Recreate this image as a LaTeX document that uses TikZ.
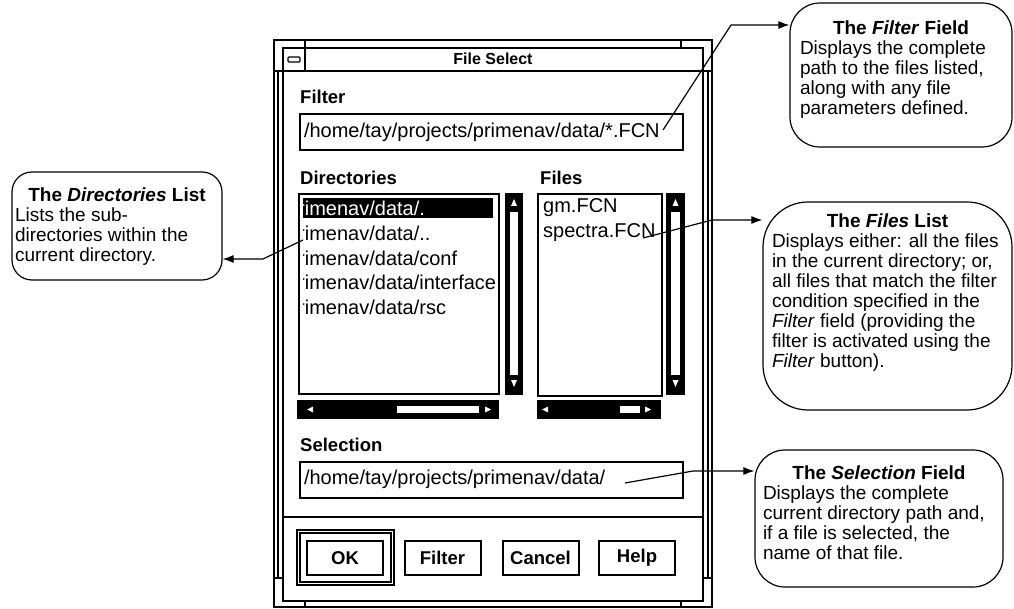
\documentclass[tikz,border=0pt]{standalone}
\usepackage{fontspec}
\setmainfont{Liberation Sans}
\usetikzlibrary{arrows.meta}

\newcommand\dlgfont{\fontsize{20}{22}\selectfont}
\newcommand\lblfont{\fontsize{18.5}{21}\selectfont\bfseries}
\newcommand\callfont{\fontsize{19}{20}\selectfont}

\tikzset{
  field/.style={draw, line width=2pt, minimum height=36pt, text width=375pt, inner sep=4pt, font=\dlgfont, align=left},
  listbox/.style={draw, line width=2pt, anchor=north west, inner sep=0pt},
  dlglabel/.style={anchor=west, inner sep=0pt, font=\lblfont},
  item/.style={anchor=west, inner sep=0pt, font=\dlgfont},
  button/.style={draw, line width=2pt, minimum width=76pt, minimum height=34pt, inner sep=0pt, font=\lblfont},
  callout/.style={draw, line width=1.2pt, inner sep=0pt},
  calltext/.style={anchor=north, inner sep=0pt, font=\callfont, align=left},
  pointer/.style={line width=1.2pt, -{Latex[length=11pt,width=8pt]}}
}

\begin{document}
\begin{tikzpicture}[x=1pt, y=-1pt]
\useasboundingbox (0,0) rectangle (1014,609);

% window frame
\draw[line width=1.2pt] (274,40) rectangle (712,607);
\draw[line width=2pt] (283,48) rectangle (703,601);
\draw[line width=2pt] (274,71) -- (712,71);
\draw[line width=1.2pt] (278,71) -- (278,578) -- (283,578);
\draw[line width=1.2pt] (708,71) -- (708,578) -- (703,578);
\draw[line width=1.2pt] (274,578) -- (278,578) (708,578) -- (712,578);
\draw[line width=1.2pt] (305,40) -- (305,71) (681,40) -- (681,48);
\draw[line width=1.2pt] (305,601) -- (305,607) (681,601) -- (681,607);
\draw[line width=1.2pt, rounded corners=1pt] (288,57) rectangle (300,62);
\node[font=\fontsize{16}{18}\selectfont\bfseries] (title) at (493,59) {File Select};

% filter
\node[dlglabel] (lblfilter) at (300,97) {Filter};
\node[field] (filterbox) at (491.5,132) {/home/tay/projects/primenav/data/*.FCN};

% lists
\node[dlglabel] (lbldirs) at (300,178) {Directories};
\node[dlglabel] (lblfiles) at (540,178) {Files};
\node[listbox, minimum width=200pt, minimum height=200pt] (dirlist) at (298,193) {};
\node[listbox, minimum width=124pt, minimum height=202pt] (filelist) at (537,193) {};

\fill (303,198) rectangle (493,218);
\begin{scope}
\clip (303,194) rectangle (497,392);
\node[item, text=white] (dir1) at (298,208) {rimenav/data/.};
\node[item] (dir2) at (298,233) {rimenav/data/..};
\node[item] (dir3) at (298,258) {rimenav/data/conf};
\node[item] (dir4) at (298,282) {rimenav/data/interface};
\node[item] (dir5) at (298,307) {rimenav/data/rsc};
\end{scope}
\node[item] (file1) at (543,208) {gm.FCN};
\node[item] (file2) at (543,233) {spectra.FCN};

% scroll bars
\fill (505,193) rectangle (523,395);
\fill[white] (510,212) rectangle (518,375);
\fill[white] (511,206) -- (517,206) -- (514,199) -- cycle;
\fill[white] (511,380) -- (517,380) -- (514,387) -- cycle;
\fill (666,193) rectangle (685,395);
\fill[white] (671,212) rectangle (680,375);
\fill[white] (672.5,206) -- (678.5,206) -- (675.5,199) -- cycle;
\fill[white] (672.5,380) -- (678.5,380) -- (675.5,387) -- cycle;
\fill (297,400) rectangle (499,419);
\fill[white] (397,406) rectangle (479,413);
\fill[white] (307,409.5) -- (313,406.5) -- (313,412.5) -- cycle;
\fill[white] (491,409.5) -- (485,406.5) -- (485,412.5) -- cycle;
\fill (537,400) rectangle (661,419);
\fill[white] (620,406) rectangle (640,413);
\fill[white] (542,409.5) -- (548,406.5) -- (548,412.5) -- cycle;
\fill[white] (651,409.5) -- (645,406.5) -- (645,412.5) -- cycle;

% selection
\node[dlglabel] (lblsel) at (300,445) {Selection};
\node[field] (selbox) at (491.5,479.5) {/home/tay/projects/primenav/data/};
\draw[line width=2pt] (283,517) -- (703,517);

% buttons
\draw[line width=1.2pt] (297,530) rectangle (394,585);
\draw[line width=1.2pt] (300,533) rectangle (391,582);
\node[button] (okbtn) at (345,558) {OK};
\node[button] (filterbtn) at (442.5,558) {Filter};
\node[button] (cancelbtn) at (540.5,558) {Cancel};
\node[button] (helpbtn) at (637,558) {Help};

% callouts
\node[callout, rounded corners=20pt, minimum width=210pt, minimum height=108pt] (dircall) at (117,226) {};
\node[calltext, yshift=-16pt] (dirtext) at (dircall.north)
  {\makebox[204pt]{\textbf{The \textit{Directories} List}}\\
   Lists the sub-\\directories within the\\current directory.};
\node[callout, rounded corners=30pt, minimum width=222pt, minimum height=144pt] (filtercall) at (901,75) {};
\node[calltext, yshift=-18pt] (filtertext) at (filtercall.north)
  {\makebox[202pt]{\textbf{The \textit{Filter} Field}}\\
   Displays the complete\\path to the files listed,\\along with any file\\parameters defined.};
\node[callout, rounded corners=45pt, minimum width=249pt, minimum height=208pt] (filescall) at (887.5,306) {};
\node[calltext, yshift=-12pt] (filestext) at (filescall.north)
  {\makebox[231pt]{\textbf{The \textit{Files} List}}\\
   Displays either: all the files\\in the current directory; or,\\all files that match the filter\\condition specified in the\\\textit{Filter} field (providing the\\filter is activated using the\\\textit{Filter} button).};
\node[callout, rounded corners=30pt, minimum width=248pt, minimum height=137pt] (selcall) at (879,518.5) {};
\node[calltext, yshift=-16pt] (seltext) at (selcall.north)
  {\makebox[232pt]{\textbf{The \textit{Selection} Field}}\\
   Displays the complete\\current directory path and,\\if a file is selected, the\\name of that file.};

% pointers
\coordinate (fpt) at (663,130);
\coordinate (fbend) at (731,25);
\draw[pointer] (fpt) -- (fbend) -- (fbend -| filtercall.west);
\coordinate (dpt) at (303,240);
\coordinate (dbend) at (263,259);
\draw[pointer] (dpt) -- (dbend) -- (dbend -| dircall.east);
\coordinate (flpt) at (643,238);
\coordinate (flbend) at (712,220);
\draw[pointer] (flpt) -- (flbend) -- (flbend -| filescall.west);
\coordinate (spt) at (625,483);
\coordinate (sbend) at (693,471);
\draw[pointer] (spt) -- (sbend) -- (sbend -| selcall.west);
\end{tikzpicture}
\end{document}
